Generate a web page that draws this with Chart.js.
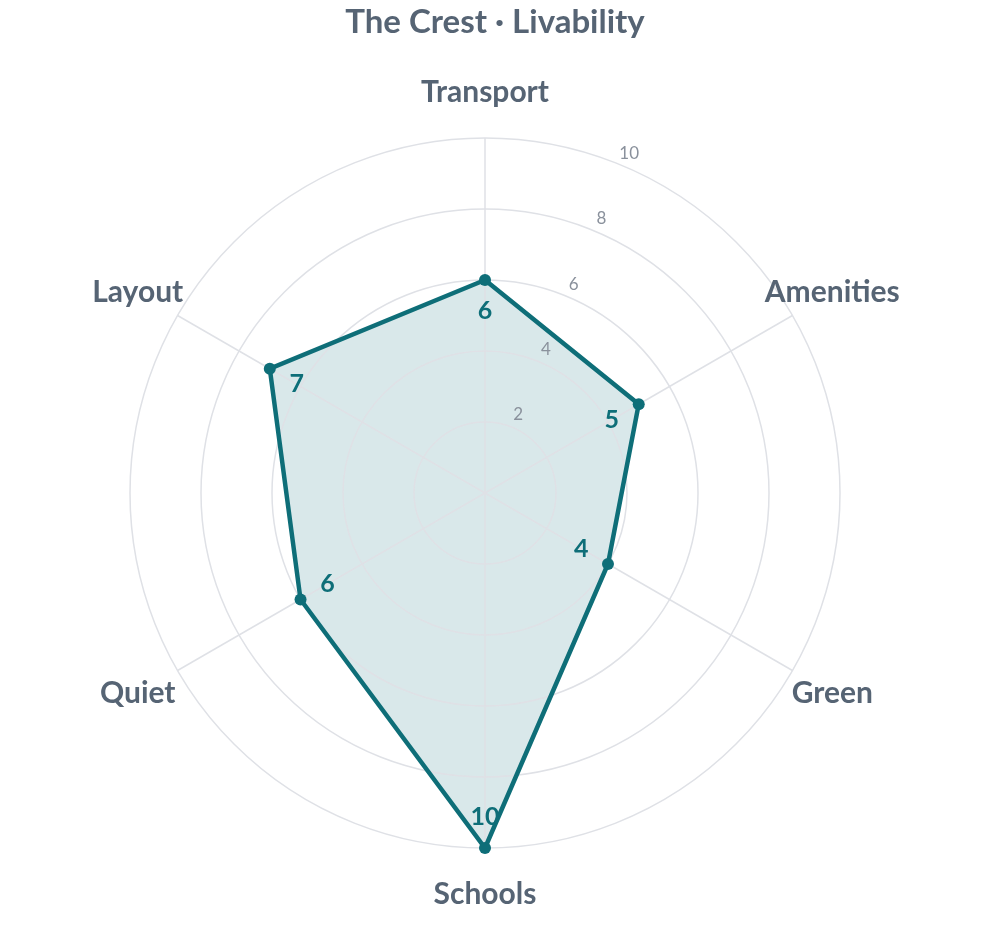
<!DOCTYPE html>
<html>
<head>
<meta charset="utf-8">
<script src="https://cdn.jsdelivr.net/npm/chart.js@4"></script>
<style>
  html, body { margin: 0; padding: 0; background: #fff; }
  #wrap { width: 990px; height: 930px; }
</style>
</head>
<body>
<div id="wrap"><canvas id="radar"></canvas></div>
<script>
const titleText = 'The Crest · Livability';
const categories = ['Transport', 'Amenities', 'Green', 'Schools', 'Quiet', 'Layout'];
const scores = [6, 5, 4, 10, 6, 7];
const tickValues = [2, 4, 6, 8, 10];

const textColor = '#566474';
const lineColor = '#0e6e78';
const fontFamily = 'Lato, "Noto Sans", sans-serif';

// labels, ticks and title drawn by hand so they sit where the reference puts them
const decorations = {
    id: 'decorations',
    afterDatasetsDraw(chart) {
        const ctx = chart.ctx;
        const r = chart.scales.r;
        ctx.save();

        // title, centered on the whole canvas
        ctx.fillStyle = textColor;
        ctx.font = 'bold 33px ' + fontFamily;
        ctx.textAlign = 'center';
        ctx.textBaseline = 'middle';
        ctx.fillText(titleText, chart.width / 2, 22);

        // category names on a ring outside the grid
        ctx.font = 'bold 30px ' + fontFamily;
        categories.forEach((name, i) => {
            const p = r.getPointPosition(i, r.drawingArea + 46);
            ctx.fillText(name, p.x, p.y);
        });

        // tick numbers along a slanted line
        ctx.fillStyle = '#8a919c';
        ctx.font = '17px ' + fontFamily;
        const ang = 23 * Math.PI / 180;
        tickValues.forEach(v => {
            const d = r.getDistanceFromCenterForValue(v) + 14;
            ctx.fillText(String(v), r.xCenter + Math.sin(ang) * d, r.yCenter - Math.cos(ang) * d);
        });

        // value labels pulled in toward the center
        ctx.fillStyle = lineColor;
        ctx.font = 'bold 25px ' + fontFamily;
        chart.getDatasetMeta(0).data.forEach((pt, i) => {
            const dx = r.xCenter - pt.x;
            const dy = r.yCenter - pt.y;
            const len = Math.hypot(dx, dy) || 1;
            const off = 31;
            ctx.fillText(String(scores[i]), pt.x + dx / len * off, pt.y + dy / len * off);
        });

        ctx.restore();
    }
};

new Chart(document.getElementById('radar'), {
    type: 'radar',
    data: {
        labels: categories,
        datasets: [{
            label: 'Score',
            data: scores,
            borderColor: lineColor,
            backgroundColor: 'rgba(14, 110, 120, 0.155)',
            borderWidth: 4.5,
            fill: true,
            pointRadius: 6,
            pointBackgroundColor: lineColor,
            pointBorderColor: lineColor,
            pointBorderWidth: 0
        }]
    },
    options: {
        responsive: true,
        maintainAspectRatio: false,
        animation: false,
        layout: {
            padding: { top: 138, bottom: 82, left: 130, right: 150 }
        },
        plugins: {
            legend: { display: false },
            tooltip: { enabled: false },
            filler: { drawTime: 'beforeDraw' }
        },
        scales: {
            r: {
                min: 0,
                max: 10,
                beginAtZero: true,
                ticks: { display: false, stepSize: 2 },
                pointLabels: { display: false },
                grid: { circular: true, color: '#dfe1e6', lineWidth: 1.5 },
                angleLines: { color: '#dfe1e6', lineWidth: 1.5 }
            }
        }
    },
    plugins: [decorations]
});
</script>
</body>
</html>
